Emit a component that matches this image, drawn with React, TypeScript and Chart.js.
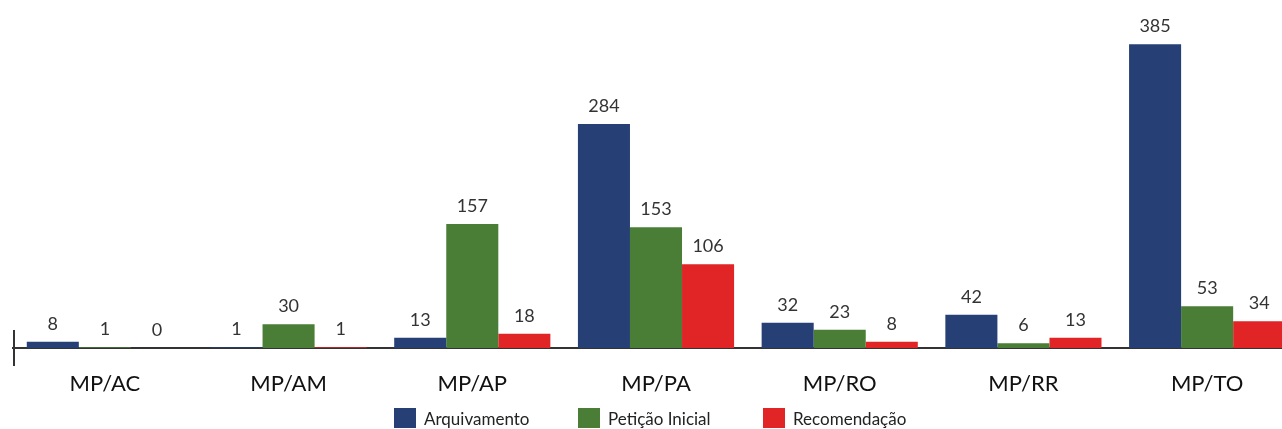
import React, { useEffect, useRef } from "react";
import { Chart, registerables } from "chart.js";

Chart.register(...registerables);

const categories = ["MP/AC", "MP/AM", "MP/AP", "MP/PA", "MP/RO", "MP/RR", "MP/TO"];
const arquivamento = [8, 1, 13, 284, 32, 42, 385];
const peticaoInicial = [1, 30, 157, 153, 23, 6, 53];
const recomendacao = [0, 1, 18, 106, 8, 13, 34];
const seriesNames = ["Arquivamento", "Petição Inicial", "Recomendação"];
const seriesColors = ["#263f74", "#4a7e36", "#e12526"];

const FONT = "Lato, 'Noto Sans', sans-serif";

const valueLabels = {
  id: "valueLabels",
  afterDatasetsDraw(chart: any) {
    const ctx = chart.ctx;
    ctx.save();
    ctx.font = `18px ${FONT}`;
    ctx.fillStyle = "#333";
    ctx.textAlign = "center";
    ctx.textBaseline = "alphabetic";
    chart.data.datasets.forEach((ds: any, i: number) => {
      const meta = chart.getDatasetMeta(i);
      meta.data.forEach((bar: any, j: number) => {
        ctx.fillText(String(ds.data[j]), bar.x, bar.y - 12);
      });
    });
    ctx.restore();
  },
};

const leftTick = {
  id: "leftTick",
  afterDraw(chart: any) {
    const { ctx, chartArea } = chart;
    ctx.save();
    ctx.strokeStyle = "#333";
    ctx.lineWidth = 2;
    ctx.beginPath();
    ctx.moveTo(chartArea.left + 1, chartArea.bottom - 18);
    ctx.lineTo(chartArea.left + 1, chartArea.bottom + 18);
    ctx.stroke();
    ctx.restore();
  },
};

export default function App() {
  const ref = useRef<HTMLCanvasElement>(null);
  useEffect(() => {
    if (!ref.current) return;
    const values = [arquivamento, peticaoInicial, recomendacao];
    const chart = new Chart(ref.current, {
      type: "bar",
      data: {
        labels: categories,
        datasets: values.map((v, i) => ({
          label: seriesNames[i],
          data: v,
          backgroundColor: seriesColors[i],
          borderWidth: 0,
          categoryPercentage: 0.85,
          barPercentage: 1.0,
        })),
      },
      options: {
        responsive: false,
        animation: false,
        layout: { padding: { left: 13, right: 0, top: 0, bottom: 0 } },
        plugins: { legend: { display: false }, tooltip: { enabled: false } },
        scales: {
          y: { display: false, min: 0, max: 441 },
          x: {
            grid: { display: false },
            border: { display: true, color: "#333", width: 2 },
            ticks: { color: "#111", font: { family: FONT, size: 22 }, padding: 15 },
            afterFit: (s: any) => {
              s.height = 81;
            },
          },
        },
      },
      plugins: [valueLabels, leftTick],
    });
    return () => chart.destroy();
  }, []);

  const legendPos = [394, 578, 763];
  return (
    <div style={{ position: "fixed", left: 0, top: 0, width: 1282, height: 429, overflow: "hidden", background: "#fff" }}>
      <canvas ref={ref} width={1299} height={429} style={{ display: "block" }} />
      {seriesNames.map((n, i) => (
        <div
          key={n}
          style={{
            position: "absolute",
            left: legendPos[i],
            top: 408,
            display: "flex",
            alignItems: "center",
            fontFamily: FONT,
            fontSize: 17,
            color: "#222",
            height: 20,
            whiteSpace: "nowrap",
          }}
        >
          <span style={{ width: 22, height: 20, background: seriesColors[i], display: "inline-block", marginRight: 8 }} />
          <span>{n}</span>
        </div>
      ))}
    </div>
  );
}
